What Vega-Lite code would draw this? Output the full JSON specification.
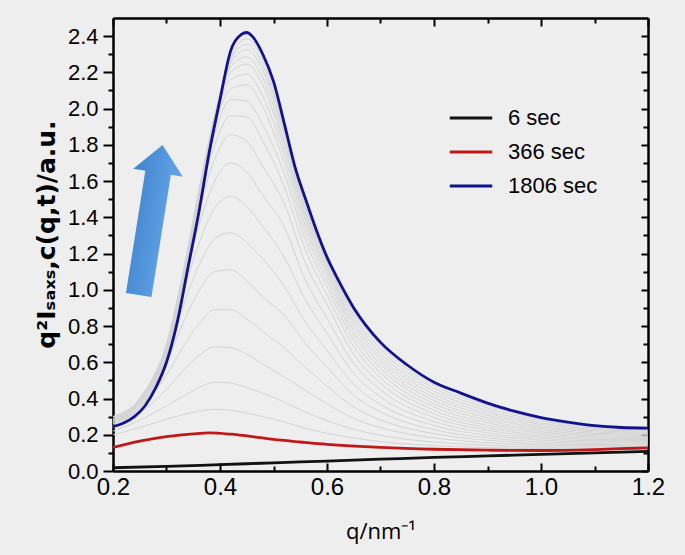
{
"$schema": "https://vega.github.io/schema/vega-lite/v6.json",
"width": 535, "height": 453,
"autosize": {"type": "none"},
"padding": {"left": 113, "top": 18, "right": 37, "bottom": 84},
"background": "#eeeeee",
"config": {
  "view": {"stroke": null},
  "font": "Liberation Sans",
  "axis": {"domainColor": "#000000", "domainWidth": 2.5, "tickColor": "#000000", "tickWidth": 2, "labelColor": "#000000", "titleColor": "#000000", "grid": false, "labelFont": "Liberation Sans"}
},
"datasets": {
"gray": [
{"c":"g1","q":0.2,"v":0.20},{"c":"g1","q":0.25,"v":0.24},{"c":"g1","q":0.3,"v":0.285},{"c":"g1","q":0.33,"v":0.31},{"c":"g1","q":0.36,"v":0.33},{"c":"g1","q":0.39,"v":0.34},{"c":"g1","q":0.42,"v":0.335},{"c":"g1","q":0.45,"v":0.32},{"c":"g1","q":0.48,"v":0.30},{"c":"g1","q":0.52,"v":0.271},{"c":"g1","q":0.56,"v":0.235},{"c":"g1","q":0.6,"v":0.208},{"c":"g1","q":0.65,"v":0.182},{"c":"g1","q":0.7,"v":0.162},{"c":"g1","q":0.8,"v":0.140},{"c":"g1","q":0.9,"v":0.129},{"c":"g1","q":1.0,"v":0.123},{"c":"g1","q":1.1,"v":0.125},{"c":"g1","q":1.2,"v":0.134},
{"c":"g2","q":0.2,"v":0.22},{"c":"g2","q":0.25,"v":0.28},{"c":"g2","q":0.3,"v":0.36},{"c":"g2","q":0.33,"v":0.41},{"c":"g2","q":0.36,"v":0.46},{"c":"g2","q":0.39,"v":0.49},{"c":"g2","q":0.42,"v":0.485},{"c":"g2","q":0.45,"v":0.46},{"c":"g2","q":0.48,"v":0.43},{"c":"g2","q":0.52,"v":0.38},{"c":"g2","q":0.56,"v":0.325},{"c":"g2","q":0.6,"v":0.278},{"c":"g2","q":0.65,"v":0.230},{"c":"g2","q":0.7,"v":0.197},{"c":"g2","q":0.8,"v":0.160},{"c":"g2","q":0.9,"v":0.142},{"c":"g2","q":1.0,"v":0.132},{"c":"g2","q":1.1,"v":0.132},{"c":"g2","q":1.2,"v":0.139},
{"c":"g3","q":0.2,"v":0.24},{"c":"g3","q":0.25,"v":0.32},{"c":"g3","q":0.3,"v":0.45},{"c":"g3","q":0.33,"v":0.55},{"c":"g3","q":0.36,"v":0.635},{"c":"g3","q":0.39,"v":0.685},{"c":"g3","q":0.42,"v":0.68},{"c":"g3","q":0.45,"v":0.645},{"c":"g3","q":0.48,"v":0.59},{"c":"g3","q":0.52,"v":0.52},{"c":"g3","q":0.56,"v":0.444},{"c":"g3","q":0.6,"v":0.371},{"c":"g3","q":0.65,"v":0.290},{"c":"g3","q":0.7,"v":0.239},{"c":"g3","q":0.8,"v":0.183},{"c":"g3","q":0.9,"v":0.156},{"c":"g3","q":1.0,"v":0.142},{"c":"g3","q":1.1,"v":0.139},{"c":"g3","q":1.2,"v":0.145},
{"c":"g4","q":0.2,"v":0.25},{"c":"g4","q":0.25,"v":0.35},{"c":"g4","q":0.3,"v":0.53},{"c":"g4","q":0.33,"v":0.68},{"c":"g4","q":0.36,"v":0.81},{"c":"g4","q":0.39,"v":0.89},{"c":"g4","q":0.42,"v":0.89},{"c":"g4","q":0.45,"v":0.84},{"c":"g4","q":0.48,"v":0.77},{"c":"g4","q":0.52,"v":0.68},{"c":"g4","q":0.56,"v":0.570},{"c":"g4","q":0.6,"v":0.469},{"c":"g4","q":0.65,"v":0.353},{"c":"g4","q":0.7,"v":0.282},{"c":"g4","q":0.8,"v":0.206},{"c":"g4","q":0.9,"v":0.170},{"c":"g4","q":1.0,"v":0.151},{"c":"g4","q":1.1,"v":0.146},{"c":"g4","q":1.2,"v":0.151},
{"c":"g5","q":0.2,"v":0.26},{"c":"g5","q":0.25,"v":0.37},{"c":"g5","q":0.3,"v":0.60},{"c":"g5","q":0.33,"v":0.81},{"c":"g5","q":0.36,"v":0.99},{"c":"g5","q":0.39,"v":1.10},{"c":"g5","q":0.42,"v":1.11},{"c":"g5","q":0.45,"v":1.05},{"c":"g5","q":0.48,"v":0.96},{"c":"g5","q":0.52,"v":0.86},{"c":"g5","q":0.56,"v":0.702},{"c":"g5","q":0.6,"v":0.573},{"c":"g5","q":0.65,"v":0.418},{"c":"g5","q":0.7,"v":0.326},{"c":"g5","q":0.8,"v":0.228},{"c":"g5","q":0.9,"v":0.183},{"c":"g5","q":1.0,"v":0.161},{"c":"g5","q":1.1,"v":0.153},{"c":"g5","q":1.2,"v":0.157},
{"c":"g6","q":0.2,"v":0.27},{"c":"g6","q":0.25,"v":0.38},{"c":"g6","q":0.3,"v":0.64},{"c":"g6","q":0.33,"v":0.90},{"c":"g6","q":0.36,"v":1.13},{"c":"g6","q":0.39,"v":1.28},{"c":"g6","q":0.42,"v":1.315},{"c":"g6","q":0.45,"v":1.26},{"c":"g6","q":0.48,"v":1.17},{"c":"g6","q":0.52,"v":1.02},{"c":"g6","q":0.56,"v":0.821},{"c":"g6","q":0.6,"v":0.666},{"c":"g6","q":0.65,"v":0.478},{"c":"g6","q":0.7,"v":0.367},{"c":"g6","q":0.8,"v":0.251},{"c":"g6","q":0.9,"v":0.197},{"c":"g6","q":1.0,"v":0.171},{"c":"g6","q":1.1,"v":0.160},{"c":"g6","q":1.2,"v":0.162},
{"c":"g7","q":0.2,"v":0.28},{"c":"g7","q":0.25,"v":0.39},{"c":"g7","q":0.3,"v":0.67},{"c":"g7","q":0.33,"v":0.97},{"c":"g7","q":0.36,"v":1.25},{"c":"g7","q":0.39,"v":1.45},{"c":"g7","q":0.42,"v":1.515},{"c":"g7","q":0.45,"v":1.46},{"c":"g7","q":0.48,"v":1.35},{"c":"g7","q":0.52,"v":1.18},{"c":"g7","q":0.56,"v":0.942},{"c":"g7","q":0.6,"v":0.760},{"c":"g7","q":0.65,"v":0.538},{"c":"g7","q":0.7,"v":0.409},{"c":"g7","q":0.8,"v":0.273},{"c":"g7","q":0.9,"v":0.211},{"c":"g7","q":1.0,"v":0.180},{"c":"g7","q":1.1,"v":0.167},{"c":"g7","q":1.2,"v":0.168},
{"c":"g8","q":0.2,"v":0.29},{"c":"g8","q":0.25,"v":0.40},{"c":"g8","q":0.3,"v":0.69},{"c":"g8","q":0.33,"v":1.02},{"c":"g8","q":0.36,"v":1.35},{"c":"g8","q":0.39,"v":1.60},{"c":"g8","q":0.42,"v":1.70},{"c":"g8","q":0.45,"v":1.65},{"c":"g8","q":0.48,"v":1.52},{"c":"g8","q":0.52,"v":1.349},{"c":"g8","q":0.56,"v":1.049},{"c":"g8","q":0.6,"v":0.843},{"c":"g8","q":0.65,"v":0.594},{"c":"g8","q":0.7,"v":0.448},{"c":"g8","q":0.8,"v":0.295},{"c":"g8","q":0.9,"v":0.225},{"c":"g8","q":1.0,"v":0.190},{"c":"g8","q":1.1,"v":0.174},{"c":"g8","q":1.2,"v":0.174},
{"c":"g9","q":0.2,"v":0.30},{"c":"g9","q":0.25,"v":0.40},{"c":"g9","q":0.3,"v":0.70},{"c":"g9","q":0.33,"v":1.05},{"c":"g9","q":0.36,"v":1.43},{"c":"g9","q":0.39,"v":1.72},{"c":"g9","q":0.42,"v":1.855},{"c":"g9","q":0.45,"v":1.82},{"c":"g9","q":0.48,"v":1.68},{"c":"g9","q":0.52,"v":1.477},{"c":"g9","q":0.56,"v":1.145},{"c":"g9","q":0.6,"v":0.919},{"c":"g9","q":0.65,"v":0.645},{"c":"g9","q":0.7,"v":0.484},{"c":"g9","q":0.8,"v":0.316},{"c":"g9","q":0.9,"v":0.238},{"c":"g9","q":1.0,"v":0.199},{"c":"g9","q":1.1,"v":0.181},{"c":"g9","q":1.2,"v":0.180},
{"c":"g10","q":0.2,"v":0.30},{"c":"g10","q":0.25,"v":0.40},{"c":"g10","q":0.3,"v":0.70},{"c":"g10","q":0.33,"v":1.07},{"c":"g10","q":0.36,"v":1.48},{"c":"g10","q":0.39,"v":1.80},{"c":"g10","q":0.42,"v":1.96},{"c":"g10","q":0.45,"v":1.955},{"c":"g10","q":0.48,"v":1.82},{"c":"g10","q":0.52,"v":1.571},{"c":"g10","q":0.56,"v":1.217},{"c":"g10","q":0.6,"v":0.974},{"c":"g10","q":0.65,"v":0.686},{"c":"g10","q":0.7,"v":0.515},{"c":"g10","q":0.8,"v":0.335},{"c":"g10","q":0.9,"v":0.252},{"c":"g10","q":1.0,"v":0.209},{"c":"g10","q":1.1,"v":0.187},{"c":"g10","q":1.2,"v":0.185},
{"c":"g11","q":0.2,"v":0.30},{"c":"g11","q":0.25,"v":0.40},{"c":"g11","q":0.3,"v":0.70},{"c":"g11","q":0.33,"v":1.08},{"c":"g11","q":0.36,"v":1.51},{"c":"g11","q":0.39,"v":1.86},{"c":"g11","q":0.42,"v":2.05},{"c":"g11","q":0.45,"v":2.04},{"c":"g11","q":0.48,"v":1.91},{"c":"g11","q":0.52,"v":1.643},{"c":"g11","q":0.56,"v":1.271},{"c":"g11","q":0.6,"v":1.017},{"c":"g11","q":0.65,"v":0.720},{"c":"g11","q":0.7,"v":0.542},{"c":"g11","q":0.8,"v":0.354},{"c":"g11","q":0.9,"v":0.266},{"c":"g11","q":1.0,"v":0.218},{"c":"g11","q":1.1,"v":0.194},{"c":"g11","q":1.2,"v":0.191},
{"c":"g12","q":0.2,"v":0.30},{"c":"g12","q":0.25,"v":0.39},{"c":"g12","q":0.3,"v":0.69},{"c":"g12","q":0.33,"v":1.08},{"c":"g12","q":0.36,"v":1.53},{"c":"g12","q":0.39,"v":1.90},{"c":"g12","q":0.42,"v":2.11},{"c":"g12","q":0.45,"v":2.13},{"c":"g12","q":0.48,"v":2.01},{"c":"g12","q":0.52,"v":1.698},{"c":"g12","q":0.56,"v":1.312},{"c":"g12","q":0.6,"v":1.049},{"c":"g12","q":0.65,"v":0.748},{"c":"g12","q":0.7,"v":0.567},{"c":"g12","q":0.8,"v":0.372},{"c":"g12","q":0.9,"v":0.279},{"c":"g12","q":1.0,"v":0.228},{"c":"g12","q":1.1,"v":0.201},{"c":"g12","q":1.2,"v":0.197},
{"c":"g13","q":0.2,"v":0.29},{"c":"g13","q":0.25,"v":0.38},{"c":"g13","q":0.3,"v":0.68},{"c":"g13","q":0.33,"v":1.07},{"c":"g13","q":0.36,"v":1.54},{"c":"g13","q":0.39,"v":1.93},{"c":"g13","q":0.42,"v":2.16},{"c":"g13","q":0.45,"v":2.19},{"c":"g13","q":0.48,"v":2.07},{"c":"g13","q":0.52,"v":1.745},{"c":"g13","q":0.56,"v":1.348},{"c":"g13","q":0.6,"v":1.077},{"c":"g13","q":0.65,"v":0.774},{"c":"g13","q":0.7,"v":0.589},{"c":"g13","q":0.8,"v":0.389},{"c":"g13","q":0.9,"v":0.293},{"c":"g13","q":1.0,"v":0.238},{"c":"g13","q":1.1,"v":0.208},{"c":"g13","q":1.2,"v":0.203},
{"c":"g14","q":0.2,"v":0.28},{"c":"g14","q":0.25,"v":0.38},{"c":"g14","q":0.3,"v":0.67},{"c":"g14","q":0.33,"v":1.05},{"c":"g14","q":0.36,"v":1.54},{"c":"g14","q":0.39,"v":1.95},{"c":"g14","q":0.42,"v":2.20},{"c":"g14","q":0.45,"v":2.245},{"c":"g14","q":0.48,"v":2.13},{"c":"g14","q":0.52,"v":1.785},{"c":"g14","q":0.56,"v":1.378},{"c":"g14","q":0.6,"v":1.100},{"c":"g14","q":0.65,"v":0.799},{"c":"g14","q":0.7,"v":0.611},{"c":"g14","q":0.8,"v":0.406},{"c":"g14","q":0.9,"v":0.307},{"c":"g14","q":1.0,"v":0.247},{"c":"g14","q":1.1,"v":0.215},{"c":"g14","q":1.2,"v":0.208},
{"c":"g15","q":0.2,"v":0.28},{"c":"g15","q":0.25,"v":0.37},{"c":"g15","q":0.3,"v":0.66},{"c":"g15","q":0.33,"v":1.03},{"c":"g15","q":0.36,"v":1.53},{"c":"g15","q":0.39,"v":1.96},{"c":"g15","q":0.42,"v":2.23},{"c":"g15","q":0.45,"v":2.285},{"c":"g15","q":0.48,"v":2.17},{"c":"g15","q":0.52,"v":1.817},{"c":"g15","q":0.56,"v":1.402},{"c":"g15","q":0.6,"v":1.119},{"c":"g15","q":0.65,"v":0.820},{"c":"g15","q":0.7,"v":0.632},{"c":"g15","q":0.8,"v":0.423},{"c":"g15","q":0.9,"v":0.320},{"c":"g15","q":1.0,"v":0.257},{"c":"g15","q":1.1,"v":0.222},{"c":"g15","q":1.2,"v":0.214},
{"c":"g16","q":0.2,"v":0.27},{"c":"g16","q":0.25,"v":0.36},{"c":"g16","q":0.3,"v":0.65},{"c":"g16","q":0.33,"v":1.01},{"c":"g16","q":0.36,"v":1.51},{"c":"g16","q":0.39,"v":1.96},{"c":"g16","q":0.42,"v":2.25},{"c":"g16","q":0.45,"v":2.325},{"c":"g16","q":0.48,"v":2.21},{"c":"g16","q":0.52,"v":1.848},{"c":"g16","q":0.56,"v":1.426},{"c":"g16","q":0.6,"v":1.138},{"c":"g16","q":0.65,"v":0.842},{"c":"g16","q":0.7,"v":0.652},{"c":"g16","q":0.8,"v":0.440},{"c":"g16","q":0.9,"v":0.334},{"c":"g16","q":1.0,"v":0.266},{"c":"g16","q":1.1,"v":0.229},{"c":"g16","q":1.2,"v":0.220},
{"c":"g17","q":0.2,"v":0.27},{"c":"g17","q":0.25,"v":0.35},{"c":"g17","q":0.3,"v":0.64},{"c":"g17","q":0.33,"v":0.99},{"c":"g17","q":0.36,"v":1.49},{"c":"g17","q":0.39,"v":1.96},{"c":"g17","q":0.42,"v":2.27},{"c":"g17","q":0.45,"v":2.355},{"c":"g17","q":0.48,"v":2.24},{"c":"g17","q":0.52,"v":1.873},{"c":"g17","q":0.56,"v":1.444},{"c":"g17","q":0.6,"v":1.152},{"c":"g17","q":0.65,"v":0.862},{"c":"g17","q":0.7,"v":0.672},{"c":"g17","q":0.8,"v":0.457},{"c":"g17","q":0.9,"v":0.348},{"c":"g17","q":1.0,"v":0.276},{"c":"g17","q":1.1,"v":0.236},{"c":"g17","q":1.2,"v":0.226},
{"c":"g18","q":0.2,"v":0.26},{"c":"g18","q":0.25,"v":0.35},{"c":"g18","q":0.3,"v":0.63},{"c":"g18","q":0.33,"v":0.98},{"c":"g18","q":0.36,"v":1.47},{"c":"g18","q":0.39,"v":1.95},{"c":"g18","q":0.42,"v":2.28},{"c":"g18","q":0.45,"v":2.385},{"c":"g18","q":0.48,"v":2.27},{"c":"g18","q":0.52,"v":1.896},{"c":"g18","q":0.56,"v":1.462},{"c":"g18","q":0.6,"v":1.166},{"c":"g18","q":0.65,"v":0.880},{"c":"g18","q":0.7,"v":0.691},{"c":"g18","q":0.8,"v":0.473},{"c":"g18","q":0.9,"v":0.361},{"c":"g18","q":1.0,"v":0.285},{"c":"g18","q":1.1,"v":0.243},{"c":"g18","q":1.2,"v":0.231}
],
"main": [
{"s":"6 sec","q":0.2,"v":0.018},{"s":"6 sec","q":0.3,"v":0.025},{"s":"6 sec","q":0.4,"v":0.035},{"s":"6 sec","q":0.5,"v":0.045},{"s":"6 sec","q":0.6,"v":0.055},{"s":"6 sec","q":0.7,"v":0.065},{"s":"6 sec","q":0.8,"v":0.075},{"s":"6 sec","q":0.9,"v":0.083},{"s":"6 sec","q":1.0,"v":0.092},{"s":"6 sec","q":1.1,"v":0.1},{"s":"6 sec","q":1.2,"v":0.108},
{"s":"366 sec","q":0.2,"v":0.13},{"s":"366 sec","q":0.25,"v":0.165},{"s":"366 sec","q":0.3,"v":0.19},{"s":"366 sec","q":0.35,"v":0.205},{"s":"366 sec","q":0.38,"v":0.21},{"s":"366 sec","q":0.42,"v":0.203},{"s":"366 sec","q":0.46,"v":0.19},{"s":"366 sec","q":0.5,"v":0.174},{"s":"366 sec","q":0.55,"v":0.16},{"s":"366 sec","q":0.6,"v":0.147},{"s":"366 sec","q":0.7,"v":0.13},{"s":"366 sec","q":0.8,"v":0.12},{"s":"366 sec","q":0.9,"v":0.115},{"s":"366 sec","q":1.0,"v":0.113},{"s":"366 sec","q":1.1,"v":0.118},{"s":"366 sec","q":1.15,"v":0.123},{"s":"366 sec","q":1.2,"v":0.128},
{"s":"1806 sec","q":0.2,"v":0.245},{"s":"1806 sec","q":0.22,"v":0.265},{"s":"1806 sec","q":0.24,"v":0.30},{"s":"1806 sec","q":0.26,"v":0.36},{"s":"1806 sec","q":0.28,"v":0.46},{"s":"1806 sec","q":0.3,"v":0.60},{"s":"1806 sec","q":0.32,"v":0.82},{"s":"1806 sec","q":0.34,"v":1.12},{"s":"1806 sec","q":0.36,"v":1.42},{"s":"1806 sec","q":0.38,"v":1.76},{"s":"1806 sec","q":0.4,"v":2.05},{"s":"1806 sec","q":0.42,"v":2.32},{"s":"1806 sec","q":0.44,"v":2.41},{"s":"1806 sec","q":0.45,"v":2.42},{"s":"1806 sec","q":0.46,"v":2.40},{"s":"1806 sec","q":0.48,"v":2.30},{"s":"1806 sec","q":0.5,"v":2.15},{"s":"1806 sec","q":0.52,"v":1.92},{"s":"1806 sec","q":0.54,"v":1.68},{"s":"1806 sec","q":0.56,"v":1.50},{"s":"1806 sec","q":0.58,"v":1.33},{"s":"1806 sec","q":0.6,"v":1.18},{"s":"1806 sec","q":0.62,"v":1.06},{"s":"1806 sec","q":0.65,"v":0.90},{"s":"1806 sec","q":0.7,"v":0.71},{"s":"1806 sec","q":0.75,"v":0.585},{"s":"1806 sec","q":0.8,"v":0.49},{"s":"1806 sec","q":0.85,"v":0.43},{"s":"1806 sec","q":0.9,"v":0.375},{"s":"1806 sec","q":0.95,"v":0.33},{"s":"1806 sec","q":1.0,"v":0.295},{"s":"1806 sec","q":1.05,"v":0.27},{"s":"1806 sec","q":1.1,"v":0.25},{"s":"1806 sec","q":1.15,"v":0.24},{"s":"1806 sec","q":1.2,"v":0.237}
],
"arrow": [{"q":0.2703,"v":1.385}]
},
"layer": [
{
  "data": {"name": "gray"},
  "mark": {"type": "line", "stroke": "#d3d3d3", "strokeWidth": 1, "interpolate": "monotone", "clip": true},
  "encoding": {
    "x": {"field": "q", "type": "quantitative", "scale": {"domain": [0.2, 1.2], "nice": false, "zero": false},
      "axis": {"orient": "bottom", "values": [0.2,0.3,0.4,0.5,0.6,0.7,0.8,0.9,1.0,1.1,1.2],
        "labelExpr": "round(datum.value*10)%2==0 ? format(datum.value,'.1f') : ''",
        "tickSize": {"condition": {"test": "round(datum.value*10)%2==0", "value": -8}, "value": -5},
        "labelFontSize": 24, "labelPadding": 12, "labelFlush": false,
        "title": "q/nm⁻¹", "titleFont": "Open Sans", "titleFontSize": 22, "titleFontWeight": "normal", "titlePadding": 22}},
    "y": {"field": "v", "type": "quantitative", "scale": {"domain": [0, 2.5], "nice": false, "zero": false},
      "axis": {"orient": "left", "values": [0,0.1,0.2,0.3,0.4,0.5,0.6,0.7,0.8,0.9,1.0,1.1,1.2,1.3,1.4,1.5,1.6,1.7,1.8,1.9,2.0,2.1,2.2,2.3,2.4],
        "labelExpr": "round(datum.value*10)%2==0 ? format(datum.value,'.1f') : ''",
        "tickSize": {"condition": {"test": "round(datum.value*10)%2==0", "value": 10}, "value": 5},
        "labelFontSize": 22, "labelPadding": 5, "labelFlush": false,
        "title": "q²Iₛₐₓₛ,c(q,t)/a.u.", "titleFont": "DejaVu Sans", "titleFontSize": 25, "titleFontWeight": "bold", "titlePadding": 8, "titleY": 216}},
    "detail": {"field": "c"}
  }
},
{
  "data": {"name": "main"},
  "mark": {"type": "line", "strokeWidth": 2.8, "interpolate": "monotone", "clip": true},
  "encoding": {
    "x": {"field": "q", "type": "quantitative", "scale": {"domain": [0.2, 1.2], "nice": false, "zero": false},
      "axis": {"orient": "top", "values": [0.2,0.3,0.4,0.5,0.6,0.7,0.8,0.9,1.0,1.1,1.2], "labels": false, "title": null,
        "tickSize": {"condition": {"test": "round(datum.value*10)%2==0", "value": -8}, "value": -5}}},
    "y": {"field": "v", "type": "quantitative", "scale": {"domain": [0, 2.5], "nice": false, "zero": false},
      "axis": {"orient": "right", "values": [0,0.1,0.2,0.3,0.4,0.5,0.6,0.7,0.8,0.9,1.0,1.1,1.2,1.3,1.4,1.5,1.6,1.7,1.8,1.9,2.0,2.1,2.2,2.3,2.4], "labels": false, "title": null,
        "tickSize": {"condition": {"test": "round(datum.value*10)%2==0", "value": -7}, "value": -5}}},
    "color": {"field": "s", "type": "nominal",
      "scale": {"domain": ["6 sec", "366 sec", "1806 sec"], "range": ["#111111", "#c01818", "#12128f"]},
      "legend": {"orient": "none", "legendX": 335, "legendY": 77, "title": null, "padding": 0,
        "symbolType": "stroke", "symbolSize": 1800, "symbolStrokeWidth": 3,
        "labelFontSize": 22, "labelFont": "Liberation Sans", "labelColor": "#000000", "labelOffset": 14, "rowPadding": 0}}
  }
},
{
  "data": {"name": "arrow"},
  "mark": {"type": "point", "shape": "M0,-1L0.33,-0.63L0.17,-0.63L0.17,1L-0.17,1L-0.17,-0.63L-0.33,-0.63Z",
    "size": 23104, "angle": 9, "filled": true, "opacity": 1, "strokeWidth": 0,
    "fill": {"gradient": "linear", "x1": 0, "y1": 0, "x2": 1, "y2": 0, "stops": [{"offset": 0, "color": "#3f83cf"}, {"offset": 1, "color": "#64a6e6"}]}},
  "encoding": {
    "x": {"field": "q", "type": "quantitative", "scale": {"domain": [0.2, 1.2], "nice": false, "zero": false}, "axis": null},
    "y": {"field": "v", "type": "quantitative", "scale": {"domain": [0, 2.5], "nice": false, "zero": false}, "axis": null}
  }
}
],
"resolve": {"axis": {"x": "independent", "y": "independent"}}
}
